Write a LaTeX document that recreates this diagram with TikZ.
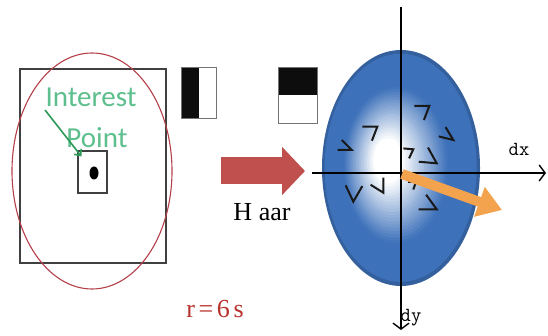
\documentclass[tikz,border=0pt]{standalone}
\usepackage{fontspec}
\setmainfont{Liberation Serif}
\newfontfamily\ptfont{Carlito}
\usetikzlibrary{positioning,arrows.meta,shapes.geometric,calc}
\definecolor{ringred}{HTML}{B5404A}
\definecolor{ptgreen}{HTML}{5EBF8E}
\definecolor{arrgreen}{HTML}{2E9A58}
\definecolor{haarred}{HTML}{C0504D}
\definecolor{ballblue}{HTML}{3D71BA}
\definecolor{gradorange}{HTML}{F3A24E}
\definecolor{radred}{HTML}{B8322E}

\begin{document}
\begin{tikzpicture}[x=1pt, y=-1pt,
  >={Straight Barb[length=6pt,width=16pt]},
  win/.style={draw=black!75, line width=1.3pt, inner sep=0pt},
  ring/.style={ellipse, draw=ringred, line width=1.1pt, inner sep=0pt},
  wave/.style={draw=black!55, line width=0.8pt, inner sep=0pt},
  ptlabel/.style={font=\ptfont\fontsize{29}{30}\selectfont, text=ptgreen, inner sep=0pt},
  ptarr/.style={-{Straight Barb[length=5pt,width=9pt]}, line width=1.6pt, draw=arrgreen},
  ball/.style={ellipse, inner sep=0pt, minimum width=158pt, minimum height=236pt},
  axis/.style={->, line width=1.4pt},
  axlabel/.style={font=\ttfamily\fontsize{20}{20}\selectfont, inner sep=0pt},
  fat/.style={-{Triangle[length=23pt,width=47pt]}, line width=27pt, draw=haarred},
  grad/.style={-{Triangle[length=24pt,width=30pt]}, line width=10pt, draw=gradorange},
  mk/.style={line width=2pt, draw=black!90, line join=miter},
  pics/gmark/.style n args={3}{code={\draw[mk] (#1:#3) -- (0,0) -- (#2:#3);}},
]
\fill[white] (0,0) rectangle (548,336);
\useasboundingbox (0,0) rectangle (548,336);

\node[win, minimum width=146pt, minimum height=194pt] (frame) at (93,166) {};
\node[win, line width=1.1pt, minimum width=29pt, minimum height=42pt] (kp) at (92.5,172) {};
\node[ellipse, fill=black, inner sep=0pt, minimum width=9pt, minimum height=13pt] (dot) at (94,173) {};
\node[ring, minimum width=160pt, minimum height=236pt] (ring) at (92,171) {};
\node[ptlabel] (int) at (91,97) {Interest};
\node[ptlabel] (pt) at (97,138) {Point};
\coordinate (tail) at (45,110);
\draw[ptarr] (tail) -- ([shift={(4,6)}]kp.north west);

\node[wave, minimum width=35pt, minimum height=51pt,
      path picture={\fill[black!95] (path picture bounding box.north west) rectangle (path picture bounding box.south);}] (hx) at (198.5,92.5) {};
\node[wave, minimum width=39pt, minimum height=56pt,
      path picture={\fill[black!95] (path picture bounding box.north west) rectangle (path picture bounding box.east);}] (hy) at (297.5,95) {};

\coordinate (hl) at (221,171);
\coordinate (hr) at (305,171);
\draw[fat] (hl) -- (hr);
\node[font=\fontsize{26}{28}\selectfont, inner sep=0pt] (haar) at (262,212) {H aar};
\node[font=\fontsize{26}{28}\selectfont\addfontfeature{LetterSpace=14}, text=radred, inner sep=0pt] (rad) at (215,309) {r=6s};

\node[ball] (ball) at (401,168) {};
\fill[ballblue!85!black] (ball.center) ellipse (79 and 118);
\foreach \k in {1,...,40}{
  \pgfmathsetmacro\f{1-\k/40}
  \pgfmathtruncatemacro\p{max(0,min(100,(\f-0.2)/0.48*100))}
  \fill[ballblue!\p!white] ($(ball.center)+({-16*(1-\f)},{-9*(1-\f)})$) ellipse ({79*\f-1} and {118*\f-1});
}
\coordinate (yt) at (401,7);
\coordinate (yb) at (401,330);
\coordinate (xl) at (312,173);
\coordinate (xr) at (546,173);
\draw[axis] (yt) -- (yb);
\draw[axis] (xl) -- (xr);
\node[axlabel] (dx) at (519,149) {dx};
\node[axlabel] (dy) at (411,318) {dy};

\pic at (429.3,106) {gmark={180}{111}{15}};
\pic at (377.3,126.7) {gmark={180}{111}{15}};
\pic at (453.3,140) {gmark={239}{194}{15}};
\pic at (351.7,150) {gmark={225}{180}{14}};
\pic at (413.3,149.3) {gmark={185}{115}{10}};
\pic at (436.7,163.3) {gmark={241}{185}{18}};
\pic at (353.3,201.7) {gmark={245}{300}{18}};
\pic at (383.3,192.7) {gmark={270}{212}{15}};
\pic at (416,182) {gmark={180}{110}{8}};
\pic at (436.7,209.3) {gmark={234}{180}{18}};

\coordinate (o) at (402,174);
\coordinate (gt) at (502,210);
\draw[grad] (o) -- (gt);
\end{tikzpicture}
\end{document}
